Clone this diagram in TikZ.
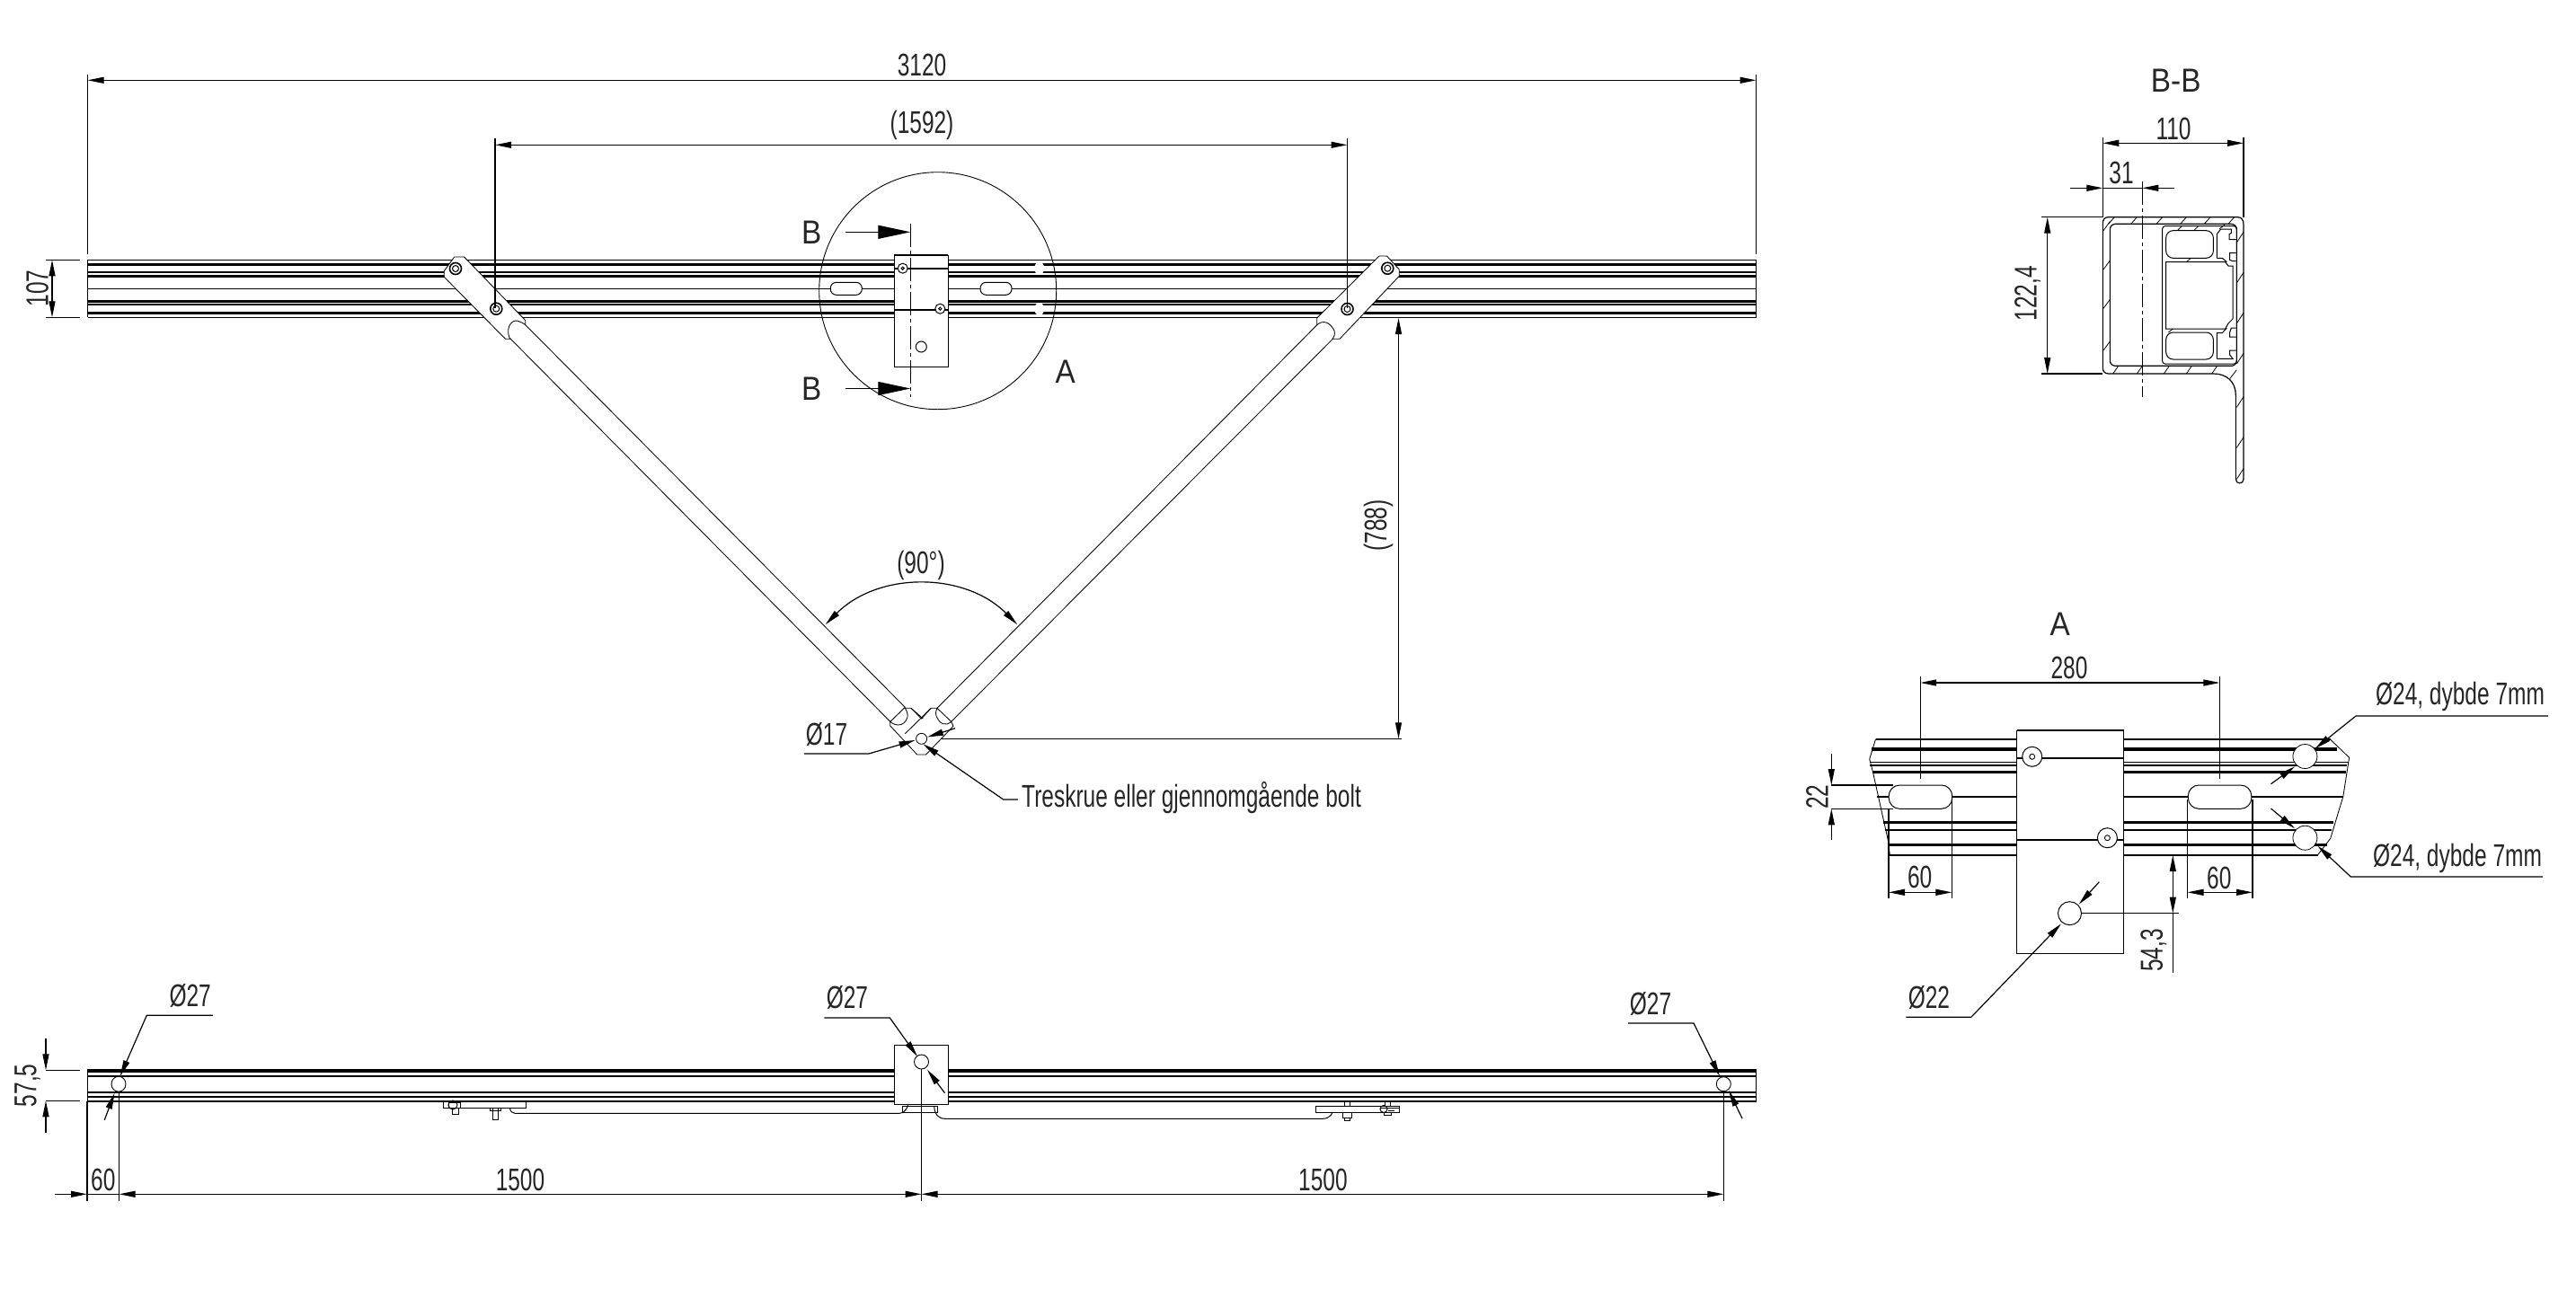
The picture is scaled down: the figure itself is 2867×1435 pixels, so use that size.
\documentclass[tikz,border=0pt]{standalone}
\usepackage{fontspec}
\setmainfont[FakeStretch=0.9]{Liberation Sans}
\newfontfamily\dimf[FakeStretch=0.70]{Liberation Sans}
\usetikzlibrary{arrows.meta}
\tikzset{
  geo/.style={line width=1pt},
  armln/.style={line width=.85pt},
  dimln/.style={line width=1.2pt},
  thickln/.style={line width=3.2pt},
  medln/.style={line width=2pt},
  >={Triangle[length=18pt,width=7pt]},
  dtxt/.style={font=\dimf\fontsize{35}{35}\selectfont,inner sep=0pt,text=black!85},
  ltxt/.style={font=\fontsize{37}{37}\selectfont,inner sep=0pt,text=black!85},
  bigarr/.style={line width=1.2pt,-{Triangle[length=36pt,width=15pt]}},
  cline/.style={line width=1pt,dash pattern=on 26pt off 4pt on 4pt off 4pt},
}
\begin{document}
\begin{tikzpicture}[x=1pt,y=-1pt]
\useasboundingbox (0,0) rectangle (2867,1435);
\fill[white] (0,0) rectangle (2867,1435);

% ---------- top view rail
\foreach \yy in {289.3,353.3,321.3}{\draw[geo] (97.6,\yy) -- (1954.5,\yy);}
\foreach \yy in {294.3,307.3,335.3,348.5}{\draw[thickln] (97.6,\yy) -- (1954.5,\yy);}
\foreach \yy in {303,339.3}{\draw[medln] (97.6,\yy) -- (1954.5,\yy);}
\draw[geo] (97.6,289.3) -- (97.6,353.3) (1954.5,289.3) -- (1954.5,353.3);

% left arm and bracket
\draw[armln,fill=white] (505.7,286) -- (516.6,286) -- (584.8,356.7) -- (584.8,361.7) -- (569.5,377.3) -- (562.5,377.3) -- (494.3,308.3) -- (494.3,301.7) -- cycle;
\draw[armln,fill=white] (567,376) .. controls (562,362) and (572,354) .. (578,358) .. controls (581,359) and (583,360) .. (584.8,361.7) -- (1007.3,787.3) -- (990.8,803.3) -- cycle;
% right arm and bracket
\draw[armln,fill=white] (1535,285) -- (1543.5,285) -- (1557.3,300) -- (1557.3,307.3) -- (1491,377.3) -- (1483.4,377.3) -- (1465.8,361.7) -- (1465.8,354) -- cycle;
\draw[armln,fill=white] (1465.8,361.7) .. controls (1472,356) and (1480,358) .. (1485,368) .. controls (1486,372) and (1485,375) .. (1482.3,378.3) -- (1058.7,803.3) -- (1043,788.3) -- cycle;
% bolts
\foreach \p in {(507,299),(552.3,343.7),(1544.3,298.7),(1499.5,344)}{
  \draw[line width=1.6pt,fill=white] \p circle[radius=6.5pt];
  \draw[line width=1pt] \p circle[radius=3.5pt];
}

% fork at apex
\draw[armln,fill=white] (990.8,803.3) -- (990.8,808) -- (1020.7,840) -- (1030.5,840) -- (1061,808.3) -- (1058.7,803.3)
  .. controls (1052,809) and (1046,806) .. (1042,797) .. controls (1041,793) and (1042,790) .. (1043,788.3)
  -- (1036.3,788.3) -- (1025.5,800) -- (1014,788.3) -- (1007.3,788.3)
  .. controls (1012,795) and (1011,803) .. (1003,806.5) .. controls (998,808) and (994,806) .. (990.8,803.3) -- cycle;
\draw[armln] (1036.3,788.3) -- (1007.3,816.7) (1014,788.3) -- (1027.4,800);
\draw[armln] (1025.6,822.3) circle[radius=6pt];

% detail circle
\draw[line width=.9pt] (1043.7,323.7) circle[radius=132pt];
% slots and shallow holes on top view
\foreach \xx in {924.3,1091}{\draw[geo,fill=white,rounded corners=6.5pt] (\xx,314.3) rectangle ++(35,14);}
\foreach \yy in {298.7,344}{\fill[white] (1156.7,\yy) ellipse[x radius=5.5pt,y radius=7pt];}
% plate
\draw[geo,fill=white] (995.3,284.3) rectangle (1055.3,408.3);
\draw[medln] (995.3,284.3) -- (1055.3,284.3);
\draw[medln] (995.3,299.3) -- (1055.3,299.3) (995.3,344.7) -- (1055.3,344.7);
\foreach \p in {(1004.7,298.7),(1046.3,343.7)}{
  \draw[geo,fill=white] \p circle[radius=5.5pt];
  \draw[geo] \p circle[radius=1.6pt];
}
\draw[geo] (1025.3,386) circle[radius=6pt];
\draw[cline] (1013.3,249) -- (1013.3,441.7);
\coordinate (ba) at (941,258.3); \coordinate (bb) at (1013.3,258.3);
\coordinate (bc) at (941,432.5); \coordinate (bd) at (1013.3,432.5);
\draw[bigarr] (ba) -- (bb);
\draw[bigarr] (bc) -- (bd);
\node[ltxt] (tB1) at (903.3,258.3) {B};
\node[ltxt] (tB2) at (903.3,432.7) {B};
\node[ltxt] (tA1) at (1185.7,414) {A};

% dimensions, top view
\draw[dimln] (97.6,83) -- (97.6,283) (1954.5,83) -- (1954.5,283);
\draw[dimln,<->] (97.6,89.3) -- (1954.5,89.3);
\node[dtxt] (d3120) at (1026,72) {3120};
\draw[dimln] (551,154) -- (551,343) (1499.5,154) -- (1499.5,343);
\draw[dimln,<->] (551,161.3) -- (1499.5,161.3);
\node[dtxt] (d1592) at (1026,139) {(1592)};
\draw[dimln] (51,289.3) -- (89,289.3) (51,353.3) -- (89,353.3);
\draw[dimln,<->] (58,289.3) -- (58,353.3);
\node[dtxt,rotate=90] (d107) at (41.5,321) {107};
\draw[dimln] (1047.5,822.3) -- (1560,822.3);
\draw[dimln,<->] (1556.5,354) -- (1556.5,822.3);
\node[dtxt,rotate=90] (d788) at (1534,585) {(788)};
\draw[dimln,<->] (918.7,695.2) arc[start angle=135,end angle=45,radius=151pt];
\node[dtxt] (d90) at (1025,629) {(90°)};
% 17 leader
\draw[dimln,->] (894.8,839) -- (967,839) -- (1018.5,824);
\draw[dimln,->] (1063,810.7) -- (1031.9,820.5);
\node[dtxt] (d17) at (920,817) {Ø17};
\draw[dimln,->] (1133,890) -- (1116.7,890) -- (1027.4,828.3);
\node[dtxt,anchor=west] (dtres) at (1137,888) {Treskrue eller gjennomgående bolt};

% ---------- section B-B
\node[ltxt] (tBB) at (2421.7,90) {B-B};
\begin{scope}[shift={(2200,50)},x=0.33333pt,y=-0.33333pt]
  \draw[line width=1.2pt,fill=white] (440,575) -- (870,575) .. controls (885,575) and (891,585) .. (891,600) -- (891,1450)
    .. controls (891,1468) and (865,1468) .. (865,1450) -- (865,1170) .. controls (865,1125) and (835,1098) .. (790,1098)
    -- (440,1098) .. controls (428,1098) and (421,1090) .. (421,1080) -- (421,595) .. controls (421,583) and (428,575) .. (440,575) -- cycle;
  \draw[line width=1.2pt,rounded corners=6pt] (445,598) rectangle (868,1072);
  \draw[line width=1pt,rounded corners=3pt] (620,605) -- (868,605) -- (868,1065) -- (620,1065) -- cycle;
  \draw[line width=1pt,rounded corners=8pt] (790,712) -- (790,620) -- (632,620) -- (632,712) -- cycle;
  \draw[line width=1pt] (632,725) -- (830,725) -- (840,738) -- (855,738) -- (855,915) -- (840,930) -- (830,948) -- (632,948) -- cycle;
  \draw[line width=1pt,rounded corners=8pt] (790,960) -- (790,1050) -- (632,1050) -- (632,960) -- cycle;
  \draw[line width=1pt] (802,712) -- (802,632) -- (815,615) -- (850,615) -- (850,628) -- (843,632) -- (843,650) -- (866,650)
     (866,695) -- (845,695) -- (845,718) -- (855,722) -- (866,722)
     (802,712) -- (820,712) -- (835,725);
  \draw[line width=1pt] (802,1048) -- (802,962) -- (820,962) -- (835,945)
     (866,945) -- (850,945) -- (845,960) -- (845,975) -- (866,975)
     (866,1020) -- (845,1020) -- (845,1035) -- (855,1048) -- (802,1048);
  \foreach \xx in {440,515,600,680,760,840}{\draw[line width=.8pt] (\xx,598) -- (\xx+20,575);}
  \foreach \xx in {455,535,625,700,785}{\draw[line width=.8pt] (\xx,1098) -- (\xx+18,1072);}
  \foreach \yy in {620,750,880,1020}{\draw[line width=.8pt] (423,\yy) -- (445,\yy-30);}
  \foreach \yy in {660,795,930,1065,1210,1345,1450}{\draw[line width=.8pt] (868,\yy) -- (891,\yy-35);}
  \draw[line width=.8pt] (845,1115) -- (868,1085);
  \draw[line width=.8pt] (670,620) -- (685,605) (725,620) -- (740,605) (810,615) -- (828,600) (700,725) -- (715,712) (640,960) -- (655,948);
\end{scope}
\draw[cline] (2384.3,201.7) -- (2384.3,441.7);
\draw[dimln] (2340.3,153) -- (2340.3,241.7) (2497,153) -- (2497,241.7);
\draw[dimln,<->] (2340.3,159.3) -- (2497,159.3);
\node[dtxt] (d110) at (2419,143) {110};
\coordinate (la) at (2304,209.3); \coordinate (lb) at (2340.3,209.3);
\coordinate (lc) at (2420,209.3); \coordinate (ld) at (2384.3,209.3);
\draw[dimln,->] (la) -- (lb);
\draw[dimln,->] (lc) -- (ld);
\draw[dimln] (lb) -- (ld);
\node[dtxt] (d31) at (2361,192.7) {31};
\draw[dimln] (2272.3,241.7) -- (2340,241.7) (2272.3,416) -- (2340,416);
\draw[dimln,<->] (2278.7,241.7) -- (2278.7,416);
\node[dtxt,rotate=90] (d122) at (2256.7,326.7) {122,4};

% ---------- detail A
\node[ltxt] (tA2) at (2292.8,695) {A};
\draw[armln] (2087.5,822.7) -- (2080.7,845) -- (2084.6,860) -- (2101.6,936.7) -- (2103.3,951.7);
\draw[armln] (2593.7,823.3) -- (2614.6,843.3) -- (2607.8,886.7) -- (2593.7,933.3) -- (2579.5,951.7);
\draw[medln] (2087.5,822.7) -- (2593.7,822.7);
\draw[thickln] (2083,834) -- (2601,834);
\draw[line width=1.2pt] (2081,848.3) -- (2614,848.3);
\draw[medln] (2081,851.7) -- (2612,851.7);
\draw[thickln] (2084,859.3) -- (2611,859.3);
\draw[medln] (2089,887) -- (2608,887);
\draw[thickln] (2096,915.3) -- (2597,915.3);
\draw[medln] (2098,924) -- (2595,924);
\draw[thickln] (2102,940.7) -- (2590,940.7);
\draw[medln] (2103.3,952) -- (2579.5,952);
\foreach \xx in {2102.2,2435.3}{\draw[geo,fill=white,rounded corners=12pt] (\xx,874) rectangle ++(70.5,26.3);}
\foreach \yy in {842,932.7}{\draw[line width=.8pt,fill=white] (2565.4,\yy) circle[radius=13.5pt];}
\draw[geo,fill=white] (2244.7,813.3) rectangle (2363.5,1061);
\draw[medln] (2244.7,813.3) -- (2363.5,813.3) (2244.7,844) -- (2363.5,844) (2244.7,935) -- (2363.5,935);
\foreach \p in {(2261.7,842.3),(2345.4,932.7)}{
  \draw[geo,fill=white] \p circle[radius=11pt];
  \draw[line width=.9pt] \p circle[radius=3pt];
}
\draw[geo] (2303.5,1016.7) circle[radius=13pt];
\draw[dimln] (2137.2,753.3) -- (2137.2,866.7) (2470.4,753.3) -- (2470.4,866.7);
\draw[dimln,<->] (2137.2,760) -- (2470.4,760);
\node[dtxt] (d280) at (2303,743) {280};
\draw[dimln] (2038.3,874) -- (2107,874) (2038.3,900.3) -- (2107,900.3);
\coordinate (ma) at (2038.3,839); \coordinate (mb) at (2038.3,874);
\coordinate (mc) at (2038.3,935); \coordinate (md) at (2038.3,900.3);
\draw[dimln,->] (ma) -- (mb);
\draw[dimln,->] (mc) -- (md);
\node[dtxt,rotate=90] (d22v) at (2022.4,887) {22};
\draw[dimln] (2102,900) -- (2102,1000) (2172.3,890) -- (2172.3,1000) (2434.5,890) -- (2434.5,1000) (2507,890) -- (2507,1000);
\draw[dimln,<->] (2102,993.3) -- (2172.3,993.3);
\draw[dimln,<->] (2434.5,993.3) -- (2507,993.3);
\node[dtxt] (d60a) at (2136.7,976.7) {60};
\node[dtxt] (d60b) at (2469.8,977) {60};
\draw[dimln] (2316.5,1016.7) -- (2425,1016.7);
\coordinate (na) at (2418.3,1016.7); \coordinate (nb) at (2418.3,952);
\draw[dimln,<->] (na) -- (nb);
\draw[dimln] (na) -- (2418.3,1083.3);
\node[dtxt,rotate=90] (d543) at (2396.9,1058) {54,3};
\draw[dimln,->] (2121.4,1132.3) -- (2193.8,1132.3) -- (2294,1028.3);
\draw[dimln,->] (2336.3,981.7) -- (2313.7,1006.7);
\node[dtxt] (d22) at (2146.9,1110) {Ø22};
\draw[dimln,->] (2835.8,797) -- (2622,797) -- (2576.7,833.3);
\draw[dimln,->] (2527.5,872.7) -- (2554,853.3);
\node[dtxt] (d24a) at (2738,775) {Ø24, dybde 7mm};
\draw[dimln,->] (2830,976) -- (2616.3,976) -- (2579.5,941.7);
\draw[dimln,->] (2527.5,900) -- (2554,922.3);
\node[dtxt] (d24b) at (2735,955) {Ø24, dybde 7mm};

% ---------- bottom view
\draw[line width=4.5pt] (97,1192) -- (1954.2,1192);
\foreach \yy in {1197.7,1215.7,1221,1226}{\draw[line width=2.4pt] (97,\yy) -- (1954.2,\yy);}
\draw[geo] (97,1190) -- (97,1227) (1954.2,1190) -- (1954.2,1227);
% holes
\draw[line width=.9pt,fill=white] (132,1206.7) ellipse[x radius=8pt,y radius=8.5pt];
\draw[line width=.9pt,fill=white] (1918.3,1206.7) ellipse[x radius=8pt,y radius=8pt];
% plate
\draw[geo,fill=white] (995.4,1163.3) rectangle (1055.6,1229.3);
\draw[line width=.9pt] (1025.5,1182) circle[radius=8pt];
% left arm side
\draw[geo] (493.9,1226.7) rectangle (585.7,1233.3);
\draw[geo] (567.3,1233.3) .. controls (568,1237) and (570,1239.3) .. (573,1239.3) -- (1001,1239.3) .. controls (1006,1239.3) and (1009,1235) .. (1010.7,1230);
\draw[geo] (1004.6,1231.3) rectangle (1043.9,1238.3);
\draw[geo] (1039.8,1232) .. controls (1040,1240) and (1044,1245.3) .. (1052,1245.3) -- (1472,1245.3) .. controls (1480,1245.3) and (1484,1240) .. (1484.2,1232);
\draw[geo,fill=white] (1464.8,1231) rectangle (1557.6,1238);
% left bolts
\draw[geo] (548,1233.3) rectangle (554,1246.7) (545,1233.3) rectangle (557,1236);
\draw[geo] (499,1227) rectangle (512,1233.3) (503,1233.3) rectangle (510,1240);
\draw[geo] (504,1230) circle[radius=5pt];
% right bolts
\draw[geo] (1496,1226.7) rectangle (1502,1231) (1494,1238) rectangle (1504,1244) (1496,1244) rectangle (1502,1247);
\draw[geo] (1541,1226.7) rectangle (1547,1231);
\draw[geo] (1540,1234.5) circle[radius=4pt];
\draw[geo] (1536,1233) -- (1557,1233) (1545,1236) -- (1552,1236);
\draw[geo] (1540,1238) rectangle (1548,1241);
% dims bottom
\draw[dimln] (51,1191.3) -- (89,1191.3) (51,1225.3) -- (89,1225.3);
\coordinate (oa) at (51,1156); \coordinate (ob) at (51,1191.3);
\coordinate (oc) at (51,1260.7); \coordinate (od) at (51,1225.3);
\draw[dimln,->] (oa) -- (ob);
\draw[dimln,->] (oc) -- (od);
\node[dtxt,rotate=90] (d575) at (30.6,1208.3) {57,5};
\draw[dimln] (97,1226) -- (97,1336.7) (132.6,1215) -- (132.6,1336.7) (1025.5,1190) -- (1025.5,1336.7) (1918.3,1215) -- (1918.3,1336.7);
\coordinate (pa) at (61,1329.3); \coordinate (pb) at (97,1329.3);
\draw[dimln,->] (pa) -- (pb);
\draw[dimln] (pb) -- (132.6,1329.3);
\draw[dimln,<->] (132.6,1329.3) -- (1025.5,1329.3);
\draw[dimln,<->] (1025.5,1329.3) -- (1918.3,1329.3);
\node[dtxt] (d60c) at (114.8,1313) {60};
\node[dtxt] (d1500a) at (579,1313) {1500};
\node[dtxt] (d1500b) at (1472.4,1313) {1500};
% leaders
\draw[dimln,->] (237,1130.3) -- (163.3,1130.3) -- (133.7,1198);
\draw[dimln,->] (116.3,1246.7) -- (127.5,1216.7);
\node[dtxt] (d27a) at (211.7,1108.3) {Ø27};
\draw[dimln,->] (917.3,1133) -- (990.3,1133) -- (1021,1176);
\draw[dimln,->] (1051.5,1216.7) -- (1032,1190.7);
\node[dtxt] (d27b) at (942.9,1110.7) {Ø27};
\draw[dimln,->] (1812,1139) -- (1885,1139) -- (1914,1198);
\draw[dimln,->] (1939,1245) -- (1924,1214);
\node[dtxt] (d27c) at (1837,1117) {Ø27};
\end{tikzpicture}
\end{document}
